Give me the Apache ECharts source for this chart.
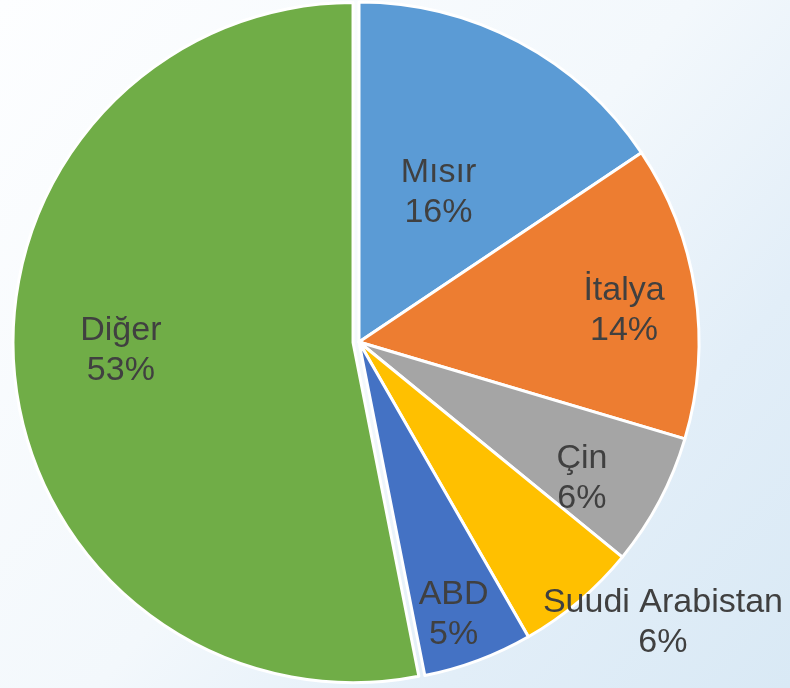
<!DOCTYPE html>
<html>
<head>
<meta charset="utf-8">
<script src="https://cdn.jsdelivr.net/npm/echarts@6/dist/echarts.min.js"></script>
<style>
    html, body { margin: 0; padding: 0; }
    #main { width: 790px; height: 688px; }
</style>
</head>
<body>
<div id="main"></div>
<script>
// ülke payları (%)
const countries = ['Mısır', 'İtalya', 'Çin', 'Suudi Arabistan', 'ABD', 'Diğer'];
const shares = [15.6, 14.0, 6.3, 5.8, 5.2, 53.1];
const colors = ['#5B9BD5', '#ED7D31', '#A5A5A5', '#FFC000', '#4472C4', '#70AD47'];

// etiketleri dilimin içinde kaydırmak için
const labelOffsets = [[-2, 3], [94, -5], [70, 56], [192, 149], [34, 111], [-60, -9]];

const data = countries.map((name, i) => ({
    name: name,
    value: shares[i],
    selected: name === 'Diğer',
    itemStyle: { color: colors[i] },
    label: { offset: labelOffsets[i] },
    select: { label: { offset: labelOffsets[i] } }
}));

const chart = echarts.init(document.getElementById('main'));
chart.setOption({
    animation: false,
    backgroundColor: {
        type: 'linear',
        x: 0, y: 0, x2: 1, y2: 1,
        colorStops: [
            { offset: 0, color: '#fdfeff' },
            { offset: 0.5, color: '#f3f8fc' },
            { offset: 0.75, color: '#e2eef8' },
            { offset: 1, color: '#d9e9f5' }
        ]
    },
    series: [
        {
            type: 'pie',
            center: [359, 342],
            radius: 340,
            startAngle: 90,
            clockwise: true,
            selectedMode: 'single',
            selectedOffset: 6,
            emphasis: { disabled: true },
            itemStyle: {
                borderColor: '#ffffff',
                borderWidth: 3
            },
            label: {
                show: true,
                position: 'inside',
                color: '#404040',
                fontFamily: 'Liberation Sans, Arial, sans-serif',
                fontSize: 34,
                lineHeight: 40,
                formatter: (p) => p.name + '\n' + Math.round(p.percent) + '%'
            },
            labelLine: { show: false },
            data: data
        }
    ]
});
</script>
</body>
</html>
